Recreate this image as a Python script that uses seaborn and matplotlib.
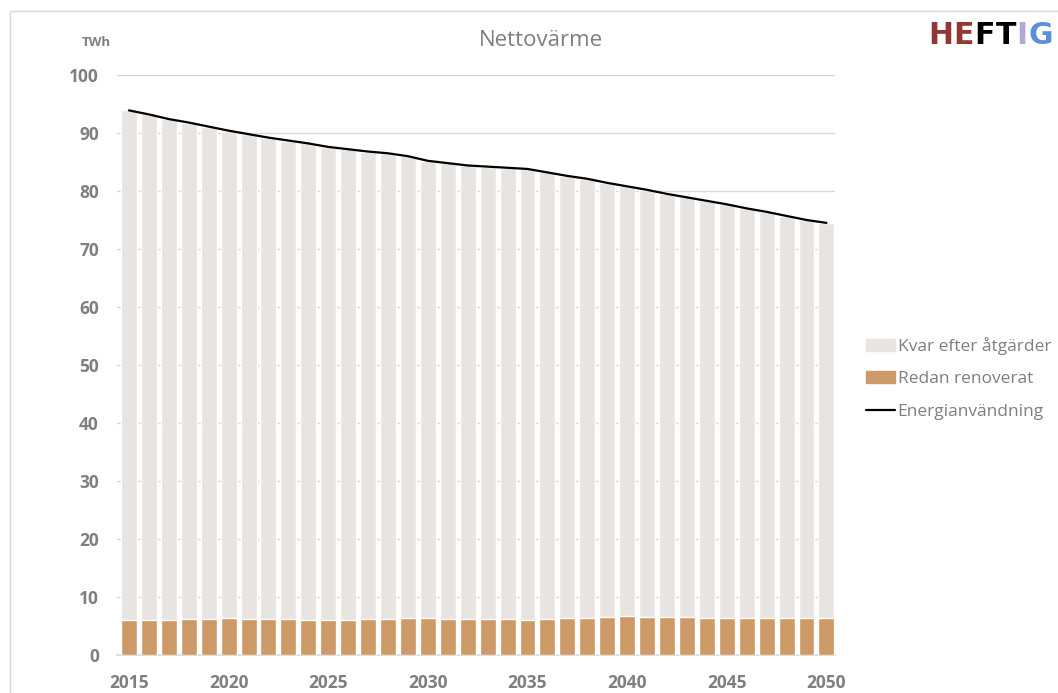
"""Nettovärme — staplad stapel (kvar / redan renoverat) + linje för energianvändning."""
import numpy as np
import pandas as pd
import matplotlib
matplotlib.use("Agg")
import matplotlib.pyplot as plt
import seaborn as sns
from matplotlib.patches import Patch, Rectangle
from matplotlib.lines import Line2D

# data (avläst ur originalbilden)
YEARS = list(range(2015, 2051))
ENERGI = [93.9, 93.2, 92.4, 91.8, 91.1, 90.4, 89.8, 89.2, 88.7, 88.2,
          87.6, 87.2, 86.8, 86.5, 86.0, 85.2, 84.8, 84.4, 84.2, 84.0,
          83.8, 83.2, 82.6, 82.1, 81.4, 80.8, 80.2, 79.5, 78.9, 78.3,
          77.7, 77.0, 76.4, 75.7, 75.0, 74.5]
RENOVERAT = [6.1, 6.1, 6.1, 6.2, 6.2, 6.3, 6.2, 6.2, 6.2, 6.1,
             6.1, 6.1, 6.2, 6.2, 6.3, 6.3, 6.2, 6.2, 6.2, 6.2,
             6.1, 6.2, 6.3, 6.4, 6.6, 6.7, 6.6, 6.6, 6.6, 6.4,
             6.4, 6.4, 6.4, 6.4, 6.4, 6.4]
LABELS = ["Kvar efter åtgärder", "Redan renoverat", "Energianvändning"]
LOGO = [("H", "#943634"), ("E", "#943634"), ("F", "black"),
        ("T", "black"), ("I", "#B4A7D6"), ("G", "#5B8FD8")]

GREY = "#E8E4E2"
BROWN = "#CD9966"
TXT = "#7F7F7F"

df = pd.DataFrame({"år": YEARS, "total": ENERGI, "renoverat": RENOVERAT})

sns.set_theme(style="white")
plt.rcParams["font.family"] = ["Open Sans", "DejaVu Sans"]

fig = plt.figure(figsize=(10.58, 6.93), dpi=100)
ax = fig.add_axes([0.1106, 0.0548, 0.679, 0.837])

# staplarna: hela höjden i grått, renoverat i brunt ovanpå nedersta delen
sns.barplot(data=df, x="år", y="total", native_scale=True, color=GREY,
            saturation=1, width=0.8, ax=ax, zorder=2)
sns.barplot(data=df, x="år", y="renoverat", native_scale=True, color=BROWN,
            saturation=1, width=0.8, ax=ax, zorder=3)
sns.lineplot(data=df, x="år", y="total", color="black", lw=1.6, ax=ax, zorder=4)

ax.set_xlim(2014.4, 2050.45)
ax.set_ylim(0, 100)
ax.set_yticks(range(0, 101, 10))
ax.set_xticks(range(2015, 2051, 5))
ax.yaxis.grid(True, color="#D9D9D9", lw=1, zorder=0)
ax.set_axisbelow(True)
ax.set_xlabel("")
ax.set_ylabel("")
for s in ["top", "right", "left"]:
    ax.spines[s].set_visible(False)
ax.spines["bottom"].set_color("#D9D9D9")
ax.tick_params(axis="both", length=0, labelsize=12.5, labelcolor=TXT)
ax.tick_params(axis="x", pad=14)
ax.tick_params(axis="y", pad=13)
for t in ax.get_xticklabels() + ax.get_yticklabels():
    t.set_fontweight("bold")

fig.text(0.511, 1 - 40 / 693, "Nettovärme", ha="center", va="center",
         fontsize=16, color="#7F7F7F")
fig.text(0.091, 0.939, "TWh", ha="center", va="center",
         fontsize=9.5, color=TXT, fontweight="bold")

# ram runt diagrammet (fortsätter utanför bilden)
fig.patches.append(Rectangle((10 / 1058, -0.1), 1.2, 1.1 - 11 / 693,
                             transform=fig.transFigure, fill=False,
                             edgecolor="#D9D9D9", lw=1))

# logga uppe till höger — bokstäverna läggs efter varandra
renderer = fig.canvas.get_renderer()
x_px = 928
for ch, c in LOGO:
    t = fig.text(x_px / 1058, 1 - 44 / 693, ch, fontsize=21.5, fontweight="bold",
                 color=c, family="DejaVu Sans", ha="left", va="baseline")
    x_px = t.get_window_extent(renderer).x1 + 0.5

handles = [Patch(color=GREY), Patch(color=BROWN), Line2D([], [], color="black", lw=1.6)]
fig.legend(handles, LABELS, loc="center left", bbox_to_anchor=(866 / 1058, 0.454),
           frameon=False, fontsize=12.5, labelcolor="#7F7F7F",
           borderpad=0, borderaxespad=0,
           handlelength=1.67, handleheight=0.7, handletextpad=0.15,
           labelspacing=0.95)

fig.savefig("out.png", dpi=100)
